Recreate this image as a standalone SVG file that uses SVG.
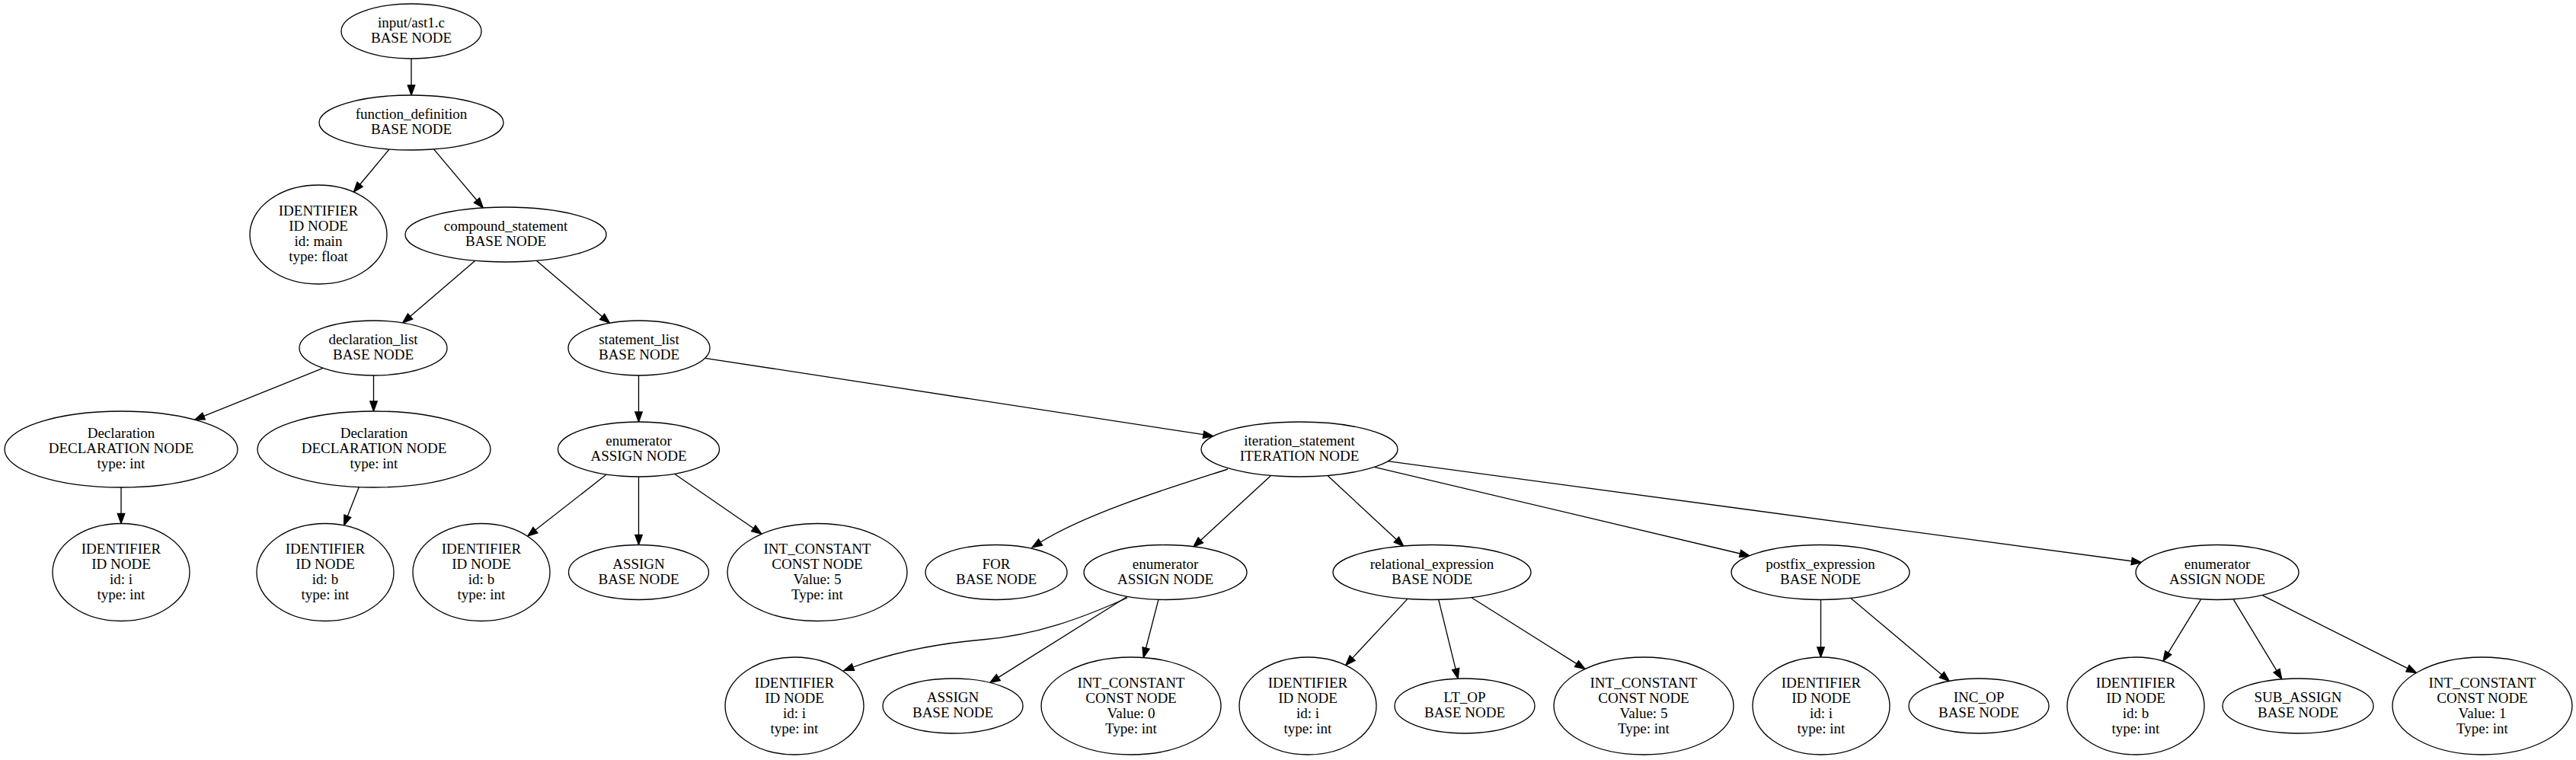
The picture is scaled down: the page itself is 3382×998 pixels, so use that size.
<svg xmlns="http://www.w3.org/2000/svg" width="3382" height="998" viewBox="0 0 3382 998">
<style>
.node ellipse{fill:#ffffff;stroke:#000000;stroke-width:1.33}
.node text{font-family:"Liberation Serif","Times New Roman",serif;font-size:19px;fill:#000000;text-anchor:middle}
.edge path{fill:none;stroke:#000000;stroke-width:1.33}
</style>
<defs>
<marker id="arr" markerUnits="userSpaceOnUse" markerWidth="14" markerHeight="10" refX="0" refY="4.7" orient="auto" style="overflow:visible">
<path d="M0,0 L13,4.7 L0,9.4 z" fill="#000000" stroke="#000000" stroke-width="1.33"/>
</marker>
</defs>
<rect x="0" y="0" width="3382" height="998" fill="#ffffff"/>
<g id="edges" class="edge">
<path marker-end="url(#arr)" d="M540,77 L540,112"/>
<path marker-end="url(#arr)" d="M511,196 L472.6,242.2"/>
<path marker-end="url(#arr)" d="M569.5,195.9 L626,263"/>
<path marker-end="url(#arr)" d="M623.9,342.3 L538.5,415.5"/>
<path marker-end="url(#arr)" d="M704.3,342.3 L790.6,415.8"/>
<path marker-end="url(#arr)" d="M424.2,483.4 L267.6,546.4"/>
<path marker-end="url(#arr)" d="M490.5,493 L490.5,527"/>
<path marker-end="url(#arr)" d="M838.5,493 L838.5,541"/>
<path marker-end="url(#arr)" d="M925.5,470.3 L1580,570.7"/>
<path marker-end="url(#arr)" d="M159,640 L159,674.5"/>
<path marker-end="url(#arr)" d="M471.3,639.6 L456.3,677.8"/>
<path marker-end="url(#arr)" d="M796.2,623 L702.9,696.1"/>
<path marker-end="url(#arr)" d="M838.5,626 L838.5,702.5"/>
<path marker-end="url(#arr)" d="M885.5,622.3 L989.2,693.8"/>
<path marker-end="url(#arr)" d="M1612,616 C1550,636 1430,672 1366,712"/>
<path marker-end="url(#arr)" d="M1668.6,624.5 L1576.3,709.4"/>
<path marker-end="url(#arr)" d="M1743,624.5 L1833.4,708.6"/>
<path marker-end="url(#arr)" d="M1804.4,613.3 L2284.6,727"/>
<path marker-end="url(#arr)" d="M1822.2,605.6 L2798.7,736.9"/>
<path marker-end="url(#arr)" d="M1480,785 C1420,812 1360,834 1290,840 C1220,846 1163,860 1120,876"/>
<path marker-end="url(#arr)" d="M1479.4,783.7 L1310.7,889.6"/>
<path marker-end="url(#arr)" d="M1520.8,787.9 L1504.5,851"/>
<path marker-end="url(#arr)" d="M1847.5,786.9 L1775.6,864.1"/>
<path marker-end="url(#arr)" d="M1888.8,787.9 L1911.1,878.6"/>
<path marker-end="url(#arr)" d="M1932.3,785 L2070,871.6"/>
<path marker-end="url(#arr)" d="M2390.5,788 L2390.5,850"/>
<path marker-end="url(#arr)" d="M2430.2,785.8 L2549.3,886"/>
<path marker-end="url(#arr)" d="M2889.4,787.3 L2846.7,857.2"/>
<path marker-end="url(#arr)" d="M2932.4,787.3 L2989,880.7"/>
<path marker-end="url(#arr)" d="M2970.5,781.9 L3160.9,877.7"/>
</g>
<g id="n0" class="node"><ellipse cx="540" cy="41" rx="92" ry="36"/><text x="540" y="36">input/ast1.c</text><text x="540" y="56">BASE NODE</text></g>
<g id="n1" class="node"><ellipse cx="540" cy="161" rx="121" ry="36"/><text x="540" y="156">function_definition</text><text x="540" y="176">BASE NODE</text></g>
<g id="n2" class="node"><ellipse cx="418" cy="308" rx="90" ry="65"/><text x="418" y="283">IDENTIFIER</text><text x="418" y="303">ID NODE</text><text x="418" y="323">id: main</text><text x="418" y="343">type: float</text></g>
<g id="n3" class="node"><ellipse cx="664" cy="308" rx="132" ry="36"/><text x="664" y="303">compound_statement</text><text x="664" y="323">BASE NODE</text></g>
<g id="n4" class="node"><ellipse cx="490" cy="457" rx="97" ry="36"/><text x="490" y="452">declaration_list</text><text x="490" y="472">BASE NODE</text></g>
<g id="n5" class="node"><ellipse cx="839" cy="457" rx="93" ry="36"/><text x="839" y="452">statement_list</text><text x="839" y="472">BASE NODE</text></g>
<g id="n6" class="node"><ellipse cx="159" cy="590" rx="153" ry="50"/><text x="159" y="575">Declaration</text><text x="159" y="595">DECLARATION NODE</text><text x="159" y="615">type: int</text></g>
<g id="n7" class="node"><ellipse cx="491" cy="590" rx="153" ry="50"/><text x="491" y="575">Declaration</text><text x="491" y="595">DECLARATION NODE</text><text x="491" y="615">type: int</text></g>
<g id="n8" class="node"><ellipse cx="838.5" cy="590" rx="106" ry="36"/><text x="838.5" y="585">enumerator</text><text x="838.5" y="605">ASSIGN NODE</text></g>
<g id="n9" class="node"><ellipse cx="1706" cy="590" rx="129" ry="36"/><text x="1706" y="585">iteration_statement</text><text x="1706" y="605">ITERATION NODE</text></g>
<g id="n10" class="node"><ellipse cx="159" cy="751.5" rx="90" ry="64"/><text x="159" y="727">IDENTIFIER</text><text x="159" y="747">ID NODE</text><text x="159" y="767">id: i</text><text x="159" y="787">type: int</text></g>
<g id="n11" class="node"><ellipse cx="427" cy="751.5" rx="90" ry="64"/><text x="427" y="727">IDENTIFIER</text><text x="427" y="747">ID NODE</text><text x="427" y="767">id: b</text><text x="427" y="787">type: int</text></g>
<g id="n12" class="node"><ellipse cx="632" cy="751.5" rx="90" ry="64"/><text x="632" y="727">IDENTIFIER</text><text x="632" y="747">ID NODE</text><text x="632" y="767">id: b</text><text x="632" y="787">type: int</text></g>
<g id="n13" class="node"><ellipse cx="838.5" cy="751.5" rx="92" ry="36"/><text x="838.5" y="747">ASSIGN</text><text x="838.5" y="767">BASE NODE</text></g>
<g id="n14" class="node"><ellipse cx="1073" cy="751.5" rx="118" ry="64"/><text x="1073" y="727">INT_CONSTANT</text><text x="1073" y="747">CONST NODE</text><text x="1073" y="767">Value: 5</text><text x="1073" y="787">Type: int</text></g>
<g id="n15" class="node"><ellipse cx="1308" cy="751.5" rx="93" ry="36"/><text x="1308" y="747">FOR</text><text x="1308" y="767">BASE NODE</text></g>
<g id="n16" class="node"><ellipse cx="1530" cy="751.5" rx="107" ry="36"/><text x="1530" y="747">enumerator</text><text x="1530" y="767">ASSIGN NODE</text></g>
<g id="n17" class="node"><ellipse cx="1880" cy="751.5" rx="130" ry="36"/><text x="1880" y="747">relational_expression</text><text x="1880" y="767">BASE NODE</text></g>
<g id="n18" class="node"><ellipse cx="2390" cy="751.5" rx="117" ry="36"/><text x="2390" y="747">postfix_expression</text><text x="2390" y="767">BASE NODE</text></g>
<g id="n19" class="node"><ellipse cx="2911" cy="751.5" rx="107" ry="36"/><text x="2911" y="747">enumerator</text><text x="2911" y="767">ASSIGN NODE</text></g>
<g id="n20" class="node"><ellipse cx="1043" cy="927" rx="91" ry="64"/><text x="1043" y="903">IDENTIFIER</text><text x="1043" y="923">ID NODE</text><text x="1043" y="943">id: i</text><text x="1043" y="963">type: int</text></g>
<g id="n21" class="node"><ellipse cx="1251" cy="927" rx="92" ry="36"/><text x="1251" y="922">ASSIGN</text><text x="1251" y="942">BASE NODE</text></g>
<g id="n22" class="node"><ellipse cx="1485" cy="927" rx="118" ry="64"/><text x="1485" y="903">INT_CONSTANT</text><text x="1485" y="923">CONST NODE</text><text x="1485" y="943">Value: 0</text><text x="1485" y="963">Type: int</text></g>
<g id="n23" class="node"><ellipse cx="1717" cy="927" rx="90" ry="64"/><text x="1717" y="903">IDENTIFIER</text><text x="1717" y="923">ID NODE</text><text x="1717" y="943">id: i</text><text x="1717" y="963">type: int</text></g>
<g id="n24" class="node"><ellipse cx="1923" cy="927" rx="92" ry="36"/><text x="1923" y="922">LT_OP</text><text x="1923" y="942">BASE NODE</text></g>
<g id="n25" class="node"><ellipse cx="2158" cy="927" rx="118" ry="64"/><text x="2158" y="903">INT_CONSTANT</text><text x="2158" y="923">CONST NODE</text><text x="2158" y="943">Value: 5</text><text x="2158" y="963">Type: int</text></g>
<g id="n26" class="node"><ellipse cx="2391" cy="927" rx="90" ry="64"/><text x="2391" y="903">IDENTIFIER</text><text x="2391" y="923">ID NODE</text><text x="2391" y="943">id: i</text><text x="2391" y="963">type: int</text></g>
<g id="n27" class="node"><ellipse cx="2598" cy="927" rx="92" ry="36"/><text x="2598" y="922">INC_OP</text><text x="2598" y="942">BASE NODE</text></g>
<g id="n28" class="node"><ellipse cx="2804" cy="927" rx="90" ry="64"/><text x="2804" y="903">IDENTIFIER</text><text x="2804" y="923">ID NODE</text><text x="2804" y="943">id: b</text><text x="2804" y="963">type: int</text></g>
<g id="n29" class="node"><ellipse cx="3017" cy="927" rx="99" ry="36"/><text x="3017" y="922">SUB_ASSIGN</text><text x="3017" y="942">BASE NODE</text></g>
<g id="n30" class="node"><ellipse cx="3259" cy="927" rx="118" ry="64"/><text x="3259" y="903">INT_CONSTANT</text><text x="3259" y="923">CONST NODE</text><text x="3259" y="943">Value: 1</text><text x="3259" y="963">Type: int</text></g>
</svg>
